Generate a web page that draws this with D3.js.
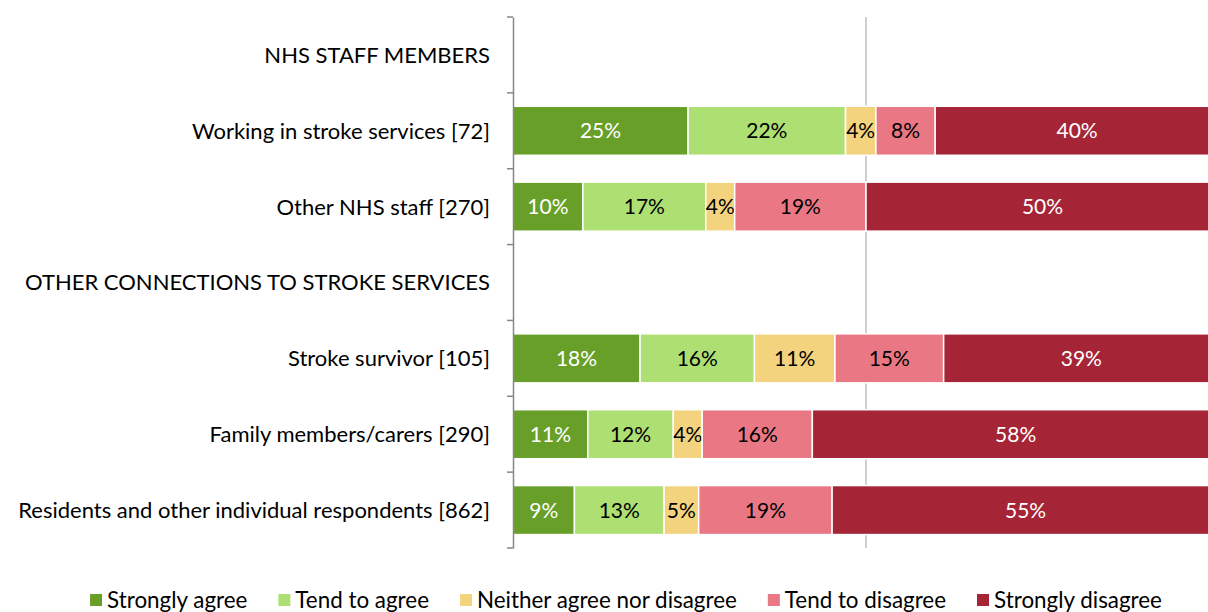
<!DOCTYPE html>
<html>
<head>
<meta charset="utf-8">
<script src="https://cdn.jsdelivr.net/npm/d3@7"></script>
<style>
  html, body { margin: 0; padding: 0; background: #fff; }
  svg { display: block; }
  text { font-family: Lato, "Open Sans", sans-serif; }
</style>
</head>
<body>
<svg id="chart" width="1208" height="612"></svg>
<script>
// ---- data ----
const categories = [
  "NHS STAFF MEMBERS",
  "Working in stroke services [72]",
  "Other NHS staff [270]",
  "OTHER CONNECTIONS TO STROKE SERVICES",
  "Stroke survivor [105]",
  "Family members/carers [290]",
  "Residents and other individual respondents [862]"
];
const seriesNames = ["Strongly agree", "Tend to agree", "Neither agree nor disagree", "Tend to disagree", "Strongly disagree"];
const stronglyAgree    = [null, 24.8,  9.9, null, 18.0, 10.6,  8.7];
const tendToAgree      = [null, 22.3, 17.4, null, 16.2, 12.1, 12.7];
const neither          = [null,  4.3,  4.1, null, 11.4,  4.1,  4.9];
const tendToDisagree   = [null,  8.4, 18.6, null, 15.4, 15.6, 18.9];
const stronglyDisagree = [null, 40.2, 50.0, null, 39.0, 57.6, 54.8];
const xTicks = [0, 50, 100];

const colors = ["#689F28", "#ADDF72", "#F3D37D", "#EA7884", "#A52536"];
const labelColors = ["#ffffff", "#000000", "#000000", "#000000", "#ffffff"];

// ---- layout ----
const svg = d3.select("#chart");
const plotLeft = 513, plotTop = 17, plotBottom = 548;
const x = d3.scaleLinear().domain([0, 100]).range([plotLeft, 1219]);
const y = d3.scaleBand().domain(categories).range([plotTop, plotBottom]).paddingInner(0.354).paddingOuter(0.177);
const yb = d3.scaleBand().domain(categories).range([plotTop, plotBottom]);

const seriesVals = [stronglyAgree, tendToAgree, neither, tendToDisagree, stronglyDisagree];
const rows = categories.map((c, i) => {
  const r = { cat: c };
  seriesNames.forEach((s, k) => { r[s] = seriesVals[k][i] == null ? 0 : seriesVals[k][i]; });
  return r;
});
const stacked = d3.stack().keys(seriesNames)(rows);

// gridline at 50%
svg.append("g").selectAll("line").data(xTicks.filter(t => t === 50)).join("line")
  .attr("x1", d => x(d)).attr("x2", d => x(d))
  .attr("y1", plotTop).attr("y2", plotBottom)
  .attr("stroke", "#BFBFBF").attr("stroke-width", 1.5);

// bars
const g = svg.append("g");
stacked.forEach((layer, k) => {
  const lg = g.append("g");
  layer.forEach((d, i) => {
    const v = d[1] - d[0];
    if (!(v > 0)) return;
    lg.append("rect")
      .attr("x", x(d[0])).attr("y", y(categories[i]))
      .attr("width", x(d[1]) - x(d[0])).attr("height", y.bandwidth())
      .attr("fill", colors[k]).attr("stroke", "#fff").attr("stroke-width", 1.5);
    lg.append("text")
      .attr("x", (x(d[0]) + x(d[1])) / 2)
      .attr("y", y(categories[i]) + y.bandwidth() / 2)
      .attr("dy", "0.36em")
      .attr("text-anchor", "middle")
      .attr("font-size", 21)
      .attr("fill", labelColors[k])
      .text(Math.round(v) + "%");
  });
});

// y axis
const axis = d3.axisLeft(yb).tickSize(0).tickFormat("");
const ag = svg.append("g").attr("transform", `translate(${plotLeft},0)`).call(axis);
ag.select(".domain").attr("stroke", "#878787").attr("stroke-width", 1.5);
const bounds = [plotTop].concat(categories.map(c => yb(c) + yb.bandwidth()));
svg.append("g").selectAll("line").data(bounds).join("line")
  .attr("x1", plotLeft - 6).attr("x2", plotLeft)
  .attr("y1", d => d).attr("y2", d => d)
  .attr("stroke", "#878787").attr("stroke-width", 1.5);

// category labels
svg.append("g").selectAll("text").data(categories).join("text")
  .attr("x", 490)
  .attr("y", d => yb(d) + yb.bandwidth() / 2)
  .attr("dy", "0.36em")
  .attr("text-anchor", "end")
  .attr("font-size", 22)
  .attr("fill", "#000")
  .text(d => d);

// legend
const leg = svg.append("g");
let cx = 0;
const items = [];
seriesNames.forEach((s, k) => {
  const it = leg.append("g");
  it.append("rect").attr("x", 0).attr("y", -6).attr("width", 12).attr("height", 12).attr("fill", colors[k]);
  const t = it.append("text").attr("x", 17).attr("y", 0).attr("dy", "0.36em")
    .attr("font-size", 22.4).attr("fill", "#000").text(s);
  const w = 17 + t.node().getComputedTextLength();
  items.push({ it, w });
});
const gap = 31;
const total = d3.sum(items, d => d.w) + gap * (items.length - 1);
cx = 626 - total / 2;
items.forEach(d => { d.it.attr("transform", `translate(${cx},600)`); cx += d.w + gap; });
</script>
</body>
</html>
